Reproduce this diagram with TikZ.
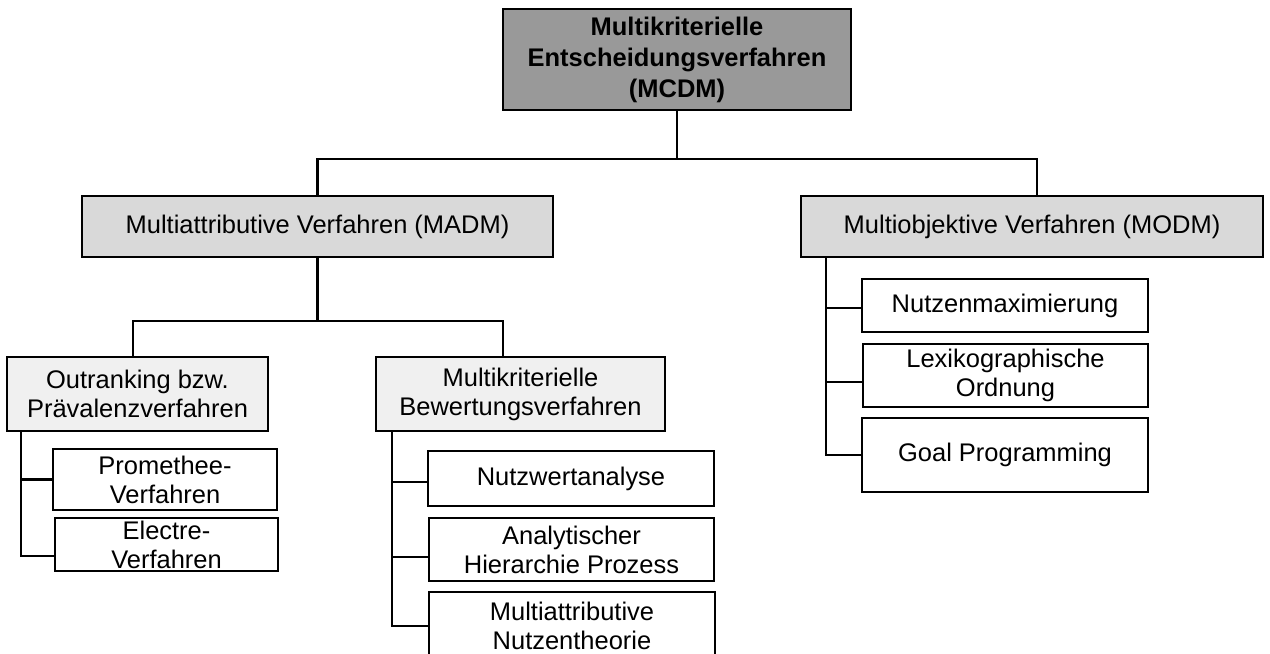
\documentclass[tikz,border=0pt]{standalone}
\usepackage{fontspec}
\setmainfont{Liberation Sans}
\usepackage{tikz}
\usetikzlibrary{positioning, calc}

\definecolor{topgray}{HTML}{999999}
\definecolor{midgray}{HTML}{D9D9D9}
\definecolor{palegray}{HTML}{F0F0F0}

\begin{document}
\begin{tikzpicture}[x=0.02cm, y=-0.02cm,
    box/.style={draw=black, line width=0.9pt, align=center, inner sep=0pt,
        font=\fontsize{14.5}{16.5}\selectfont},
    link/.style={line width=1.3pt}]
    \path[use as bounding box, clip] (0,0) rectangle (1270,653);

    % Top level
    \node[box, fill=topgray, minimum width=6.96cm, minimum height=2.02cm,
        font=\bfseries\fontsize{14.5}{17.6}\selectfont] (mcdm) at (677,59.5)
        {Multikriterielle\\Entscheidungsverfahren\\(MCDM)};

    % Second level
    \node[box, fill=midgray, minimum width=9.42cm, minimum height=1.22cm] (madm) at (317.5,226.5)
        {Multiattributive Verfahren (MADM)};
    \node[box, fill=midgray, minimum width=9.24cm, minimum height=1.22cm] (modm) at (1032,226.5)
        {Multiobjektive Verfahren (MODM)};

    % Third level (MADM)
    \node[box, fill=palegray, minimum width=5.22cm, minimum height=1.48cm] (outr) at (137.5,394)
        {Outranking bzw.\\Prävalenzverfahren};
    \node[box, fill=palegray, minimum width=5.78cm, minimum height=1.48cm] (bew) at (520.5,394)
        {Multikriterielle\\Bewertungsverfahren};

    % Leaves
    \node[box, fill=white, minimum width=4.48cm, minimum height=1.22cm] (prom) at (165,479.5)
        {Promethee-\\Verfahren};
    \node[box, fill=white, minimum width=4.46cm, minimum height=1.06cm] (elec) at (166.5,544.5)
        {Electre-\\Verfahren};
    \node[box, fill=white, minimum width=5.72cm, minimum height=1.10cm] (nutzw) at (571,478.5)
        {Nutzwertanalyse};
    \node[box, fill=white, minimum width=5.70cm, minimum height=1.26cm] (ahp) at (571.5,549.5)
        {Analytischer\\Hierarchie Prozess};
    \node[box, fill=white, minimum width=5.72cm, minimum height=1.36cm] (maut) at (572,626)
        {Multiattributive\\Nutzentheorie};
    \node[box, fill=white, minimum width=5.72cm, minimum height=1.06cm] (nmax) at (1005,305.5)
        {Nutzenmaximierung};
    \node[box, fill=white, minimum width=5.70cm, minimum height=1.26cm] (lex) at (1005.5,375.5)
        {Lexikographische\\Ordnung};
    \node[box, fill=white, minimum width=5.72cm, minimum height=1.48cm] (goal) at (1005,455)
        {Goal Programming};

    % Connectors
    \draw[link] (mcdm.south) -- ++(0,48) -| (madm.north);
    \draw[link] (mcdm.south) -- ++(0,48) -| ([xshift=0.1cm]modm.north);
    \draw[link] (madm.south) -- ++(0,63) -| ([xshift=-0.09cm]outr.north);
    \draw[link] (madm.south) -- ++(0,63) -| ([xshift=-0.35cm]bew.north);

    \draw[link] ([xshift=0.3cm]outr.south west) |- (prom.west);
    \draw[link] ([xshift=0.3cm]outr.south west) |- ([yshift=-0.23cm]elec.west);

    \draw[link] ([xshift=0.34cm]bew.south west) |- ([yshift=-0.07cm]nutzw.west);
    \draw[link] ([xshift=0.34cm]bew.south west) |- ([yshift=-0.15cm]ahp.west);
    \draw[link] ([xshift=0.34cm]bew.south west) |- (maut.west);

    \draw[link] ([xshift=0.52cm]modm.south west) |- ([yshift=-0.05cm]nmax.west);
    \draw[link] ([xshift=0.52cm]modm.south west) |- ([yshift=-0.13cm]lex.west);
    \draw[link] ([xshift=0.52cm]modm.south west) |- (goal.west);
\end{tikzpicture}
\end{document}
